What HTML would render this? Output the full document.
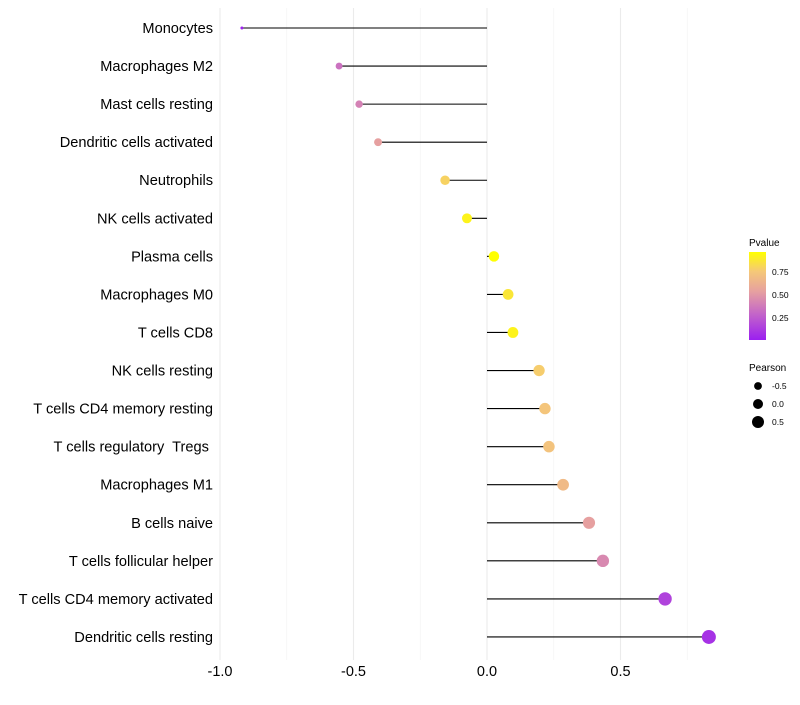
<!DOCTYPE html>
<html><head><meta charset="utf-8"><style>
body{margin:0;background:#fff;font-family:"Liberation Sans",sans-serif;}
svg text{font-family:"Liberation Sans",sans-serif;white-space:pre;}
</style></head><body>
<svg id="chart" width="800" height="700" xmlns="http://www.w3.org/2000/svg">
<defs><linearGradient id="pg" x1="0" y1="1" x2="0" y2="0">
<stop offset="0" stop-color="#9b1ff0"/><stop offset="0.3" stop-color="#c466c8"/><stop offset="0.55" stop-color="#e6a0a0"/><stop offset="0.78" stop-color="#f5c878"/><stop offset="1" stop-color="#ffff00"/>
</linearGradient></defs>
<g id="grid"></g>
<g id="marks"></g>
<g id="labels"></g>
<g>
<text x="749" y="246" font-size="10" fill="#000">Pvalue</text>
<rect x="749" y="252" width="17" height="88" fill="url(#pg)"/>
<text x="772" y="275" font-size="8.5">0.75</text>
<text x="772" y="298" font-size="8.5">0.50</text>
<text x="772" y="321" font-size="8.5">0.25</text>
</g>
<g>
<text x="749" y="371" font-size="10">Pearson</text>
<circle cx="758" cy="386" r="3.9"/><text x="772" y="389" font-size="8.5">-0.5</text>
<circle cx="758" cy="404" r="5"/><text x="772" y="407" font-size="8.5">0.0</text>
<circle cx="758" cy="422" r="6"/><text x="772" y="425" font-size="8.5">0.5</text>
</g>
</svg>
<script>
const categories=["Monocytes","Macrophages M2","Mast cells resting","Dendritic cells activated","Neutrophils","NK cells activated","Plasma cells","Macrophages M0","T cells CD8","NK cells resting","T cells CD4 memory resting","T cells regulatory  Tregs ","Macrophages M1","B cells naive","T cells follicular helper","T cells CD4 memory activated","Dendritic cells resting"];
const pearson=[-0.918,-0.554,-0.479,-0.408,-0.157,-0.075,0.026,0.079,0.097,0.195,0.217,0.232,0.285,0.382,0.434,0.667,0.831];
const pvalue=[0.02,0.35,0.42,0.55,0.82,0.95,1.0,0.9,0.95,0.8,0.76,0.75,0.7,0.55,0.45,0.15,0.08];
const xTicks=[-1,-0.5,0,0.5];
const xTickLabels=["-1.0","-0.5","0.0","0.5"];
const NS="http://www.w3.org/2000/svg";
const x=v=>487+v*267;
const y=i=>28+i*38.06;
const rad=v=>Math.sqrt(Math.max(1,26.8+26.7*v));
function col(p){const st=[[0,[155,31,240]],[0.3,[196,102,200]],[0.55,[230,160,160]],[0.78,[245,200,120]],[1,[255,255,0]]];
for(let k=1;k<st.length;k++){if(p<=st[k][0]){const t=(p-st[k-1][0])/(st[k][0]-st[k-1][0]);const a=st[k-1][1],b=st[k][1];return `rgb(${a.map((c,j)=>Math.round(c+(b[j]-c)*t)).join(',')})`;}}return "rgb(255,255,0)";}
function mk(t,a,p){const e=document.createElementNS(NS,t);for(const k in a)e.setAttribute(k,a[k]);p.appendChild(e);return e;}
const grid=document.getElementById('grid'),marks=document.getElementById('marks'),labels=document.getElementById('labels');
[-0.75,-0.25,0.25,0.75].forEach(v=>{const l=mk('line',{x1:x(v),x2:x(v),y1:8,y2:660,stroke:'#f3f3f3','stroke-width':0.6},grid);

});
xTicks.forEach((v,i)=>{const l=mk('line',{x1:x(v),x2:x(v),y1:8,y2:660,stroke:'#ebebeb','stroke-width':1.1},grid);


const t=mk('text',{x:x(v),y:676,'font-size':14.5,'text-anchor':'middle',fill:'#000'},labels);t.textContent=xTickLabels[i];

});
categories.forEach((c,i)=>{const l=mk('line',{x1:x(0),x2:x(pearson[i]),y1:y(i),y2:y(i),stroke:'#000','stroke-width':1.1},marks);


const d=mk('circle',{cx:x(pearson[i]),cy:y(i),r:rad(pearson[i]),fill:col(pvalue[i])},marks);


const t=mk('text',{x:213,y:y(i)+5,'font-size':14.6,'text-anchor':'end',fill:'#000'},labels);t.textContent=c;

});
</script>
</body></html>
